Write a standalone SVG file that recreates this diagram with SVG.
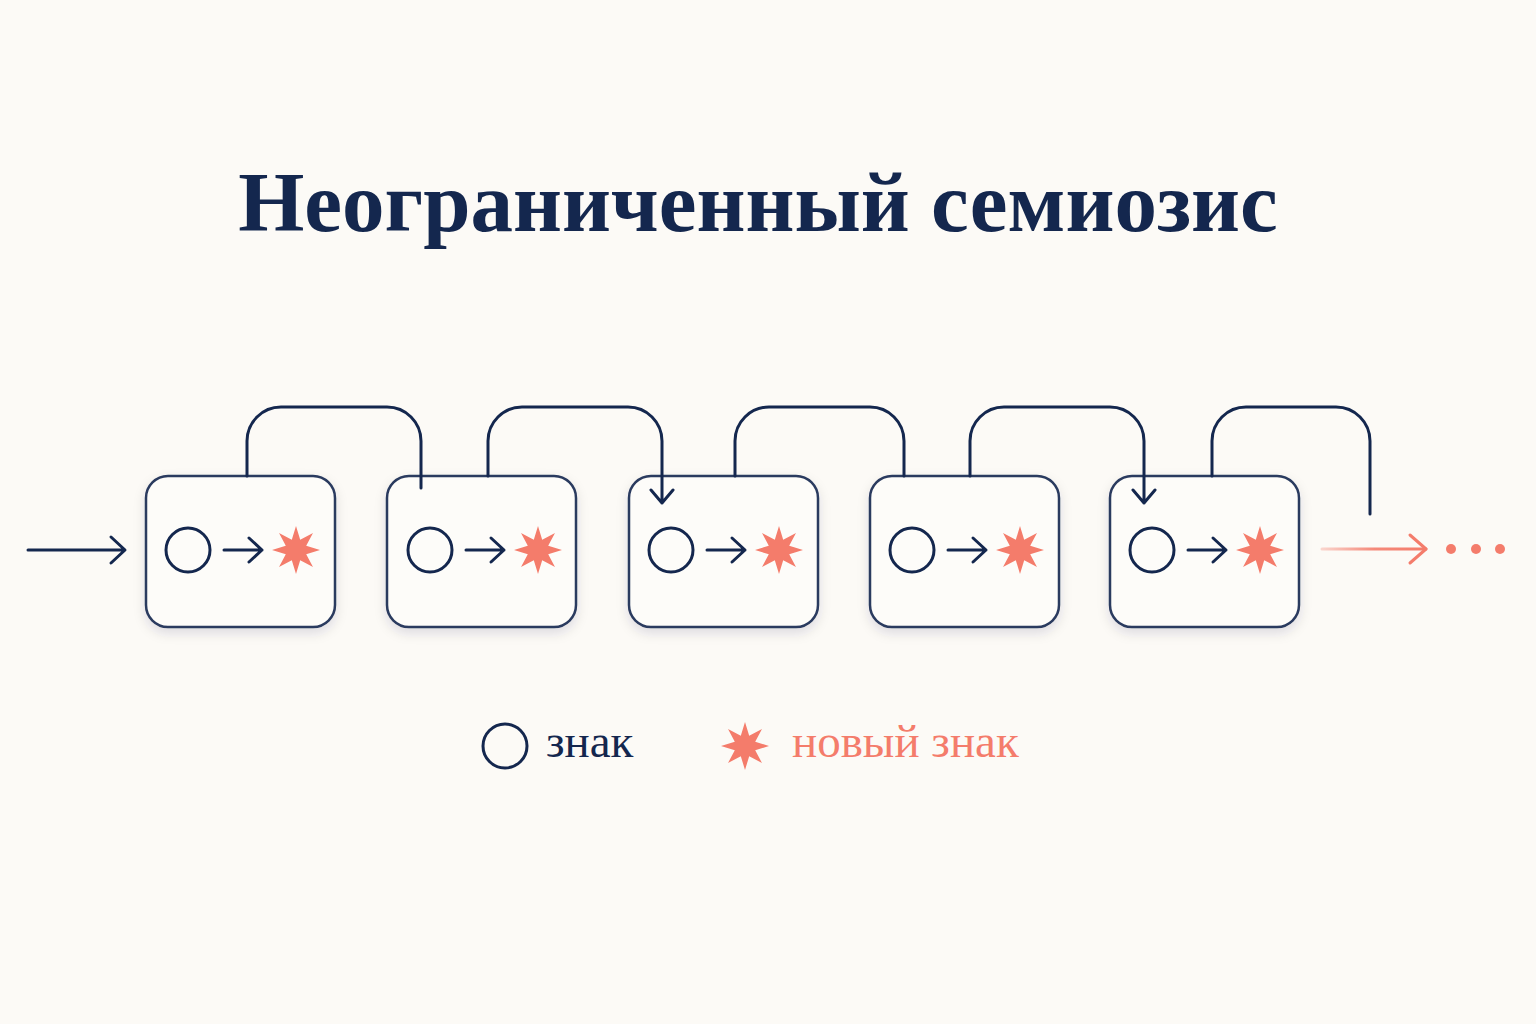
<svg xmlns="http://www.w3.org/2000/svg" width="1536" height="1024" viewBox="0 0 1536 1024">
  <defs>
    <style>
      .box { fill: #fdfcf9; stroke: #2a3a5e; stroke-width: 2.5; }
      .navy { fill: none; stroke: #14274e; stroke-width: 3; stroke-linecap: round; stroke-linejoin: round; }
      .sign { fill: none; stroke: #14274e; stroke-width: 3; }
      .star { fill: #f47c6b; }
      .title { font-family: "Liberation Serif", "DejaVu Serif", serif; font-weight: bold; font-size: 85px; fill: #14274e; }
      .leg { font-family: "Liberation Serif", "DejaVu Serif", serif; font-size: 47px; }
    </style>
    <filter id="shadow" x="-20%" y="-20%" width="140%" height="150%">
      <feDropShadow dx="0" dy="5" stdDeviation="6" flood-color="#1a2340" flood-opacity="0.12"/>
    </filter>
    <linearGradient id="fade" x1="1322" y1="0" x2="1427" y2="0" gradientUnits="userSpaceOnUse">
      <stop offset="0" stop-color="#f47c6b" stop-opacity="0.3"/>
      <stop offset="0.5" stop-color="#f47c6b" stop-opacity="0.9"/>
      <stop offset="1" stop-color="#f47c6b" stop-opacity="1"/>
    </linearGradient>
    <path id="starShape" d="M0,-24 L4.2,-10.2 L17,-17 L10.2,-4.2 L24,0 L10.2,4.2 L17,17 L4.2,10.2 L0,24 L-4.2,10.2 L-17,17 L-10.2,4.2 L-24,0 L-10.2,-4.2 L-17,-17 L-4.2,-10.2 Z"/>
    <g id="content">
      <circle cx="0" cy="0" r="22" class="sign"/>
      <path d="M36,0 H74 M61,-12 L74,0 L61,12" class="navy"/>
      <use href="#starShape" x="108" y="0" class="star"/>
    </g>
  </defs>

  <rect width="1536" height="1024" fill="#fcfaf6"/>

  <text id="title" class="title" x="758" y="231" text-anchor="middle">Неограниченный семиозис</text>

  <g id="node1">
    <rect class="box" x="146" y="476" width="189" height="151" rx="22" filter="url(#shadow)"/>
    <use href="#content" x="188" y="550"/>
  </g>
  <g id="node2">
    <rect class="box" x="387" y="476" width="189" height="151" rx="22" filter="url(#shadow)"/>
    <use href="#content" x="430" y="550"/>
  </g>
  <g id="node3">
    <rect class="box" x="629" y="476" width="189" height="151" rx="22" filter="url(#shadow)"/>
    <use href="#content" x="671" y="550"/>
  </g>
  <g id="node4">
    <rect class="box" x="870" y="476" width="189" height="151" rx="22" filter="url(#shadow)"/>
    <use href="#content" x="912" y="550"/>
  </g>
  <g id="node5">
    <rect class="box" x="1110" y="476" width="189" height="151" rx="22" filter="url(#shadow)"/>
    <use href="#content" x="1152" y="550"/>
  </g>

  <g id="connectors">
    <path class="navy" d="M28,550 H124 M111,537 L125,550 L111,563"/>
    <path class="navy" d="M247,476 V441 A34,34 0 0 1 281,407 H387 A34,34 0 0 1 421,441 V488"/>
    <path class="navy" d="M488,476 V441 A34,34 0 0 1 522,407 H628 A34,34 0 0 1 662,441 V503 M651,490 L662,503 L673,490"/>
    <path class="navy" d="M735,476 V441 A34,34 0 0 1 769,407 H870 A34,34 0 0 1 904,441 V476"/>
    <path class="navy" d="M970,476 V441 A34,34 0 0 1 1004,407 H1110 A34,34 0 0 1 1144,441 V503 M1133,490 L1144,503 L1155,490"/>
    <path class="navy" d="M1212,476 V441 A34,34 0 0 1 1246,407 H1336 A34,34 0 0 1 1370,441 V514"/>
    <path d="M1322,549 H1426" fill="none" stroke="url(#fade)" stroke-width="3" stroke-linecap="round"/>
    <path d="M1410,535 L1426,549 L1410,563" fill="none" stroke="#f47c6b" stroke-width="3" stroke-linecap="round" stroke-linejoin="round"/>
    <circle cx="1451" cy="549" r="5" fill="#f47c6b"/>
    <circle cx="1476" cy="549" r="5" fill="#f47c6b"/>
    <circle cx="1500" cy="549" r="5" fill="#f47c6b"/>
  </g>

  <g id="legend">
    <circle cx="505" cy="746" r="22" class="sign"/>
    <text class="leg" x="546" y="757" fill="#14274e">знак</text>
    <use href="#starShape" x="745" y="746" class="star"/>
    <text class="leg" x="792" y="757" fill="#f47c6b">новый знак</text>
  </g>
</svg>
